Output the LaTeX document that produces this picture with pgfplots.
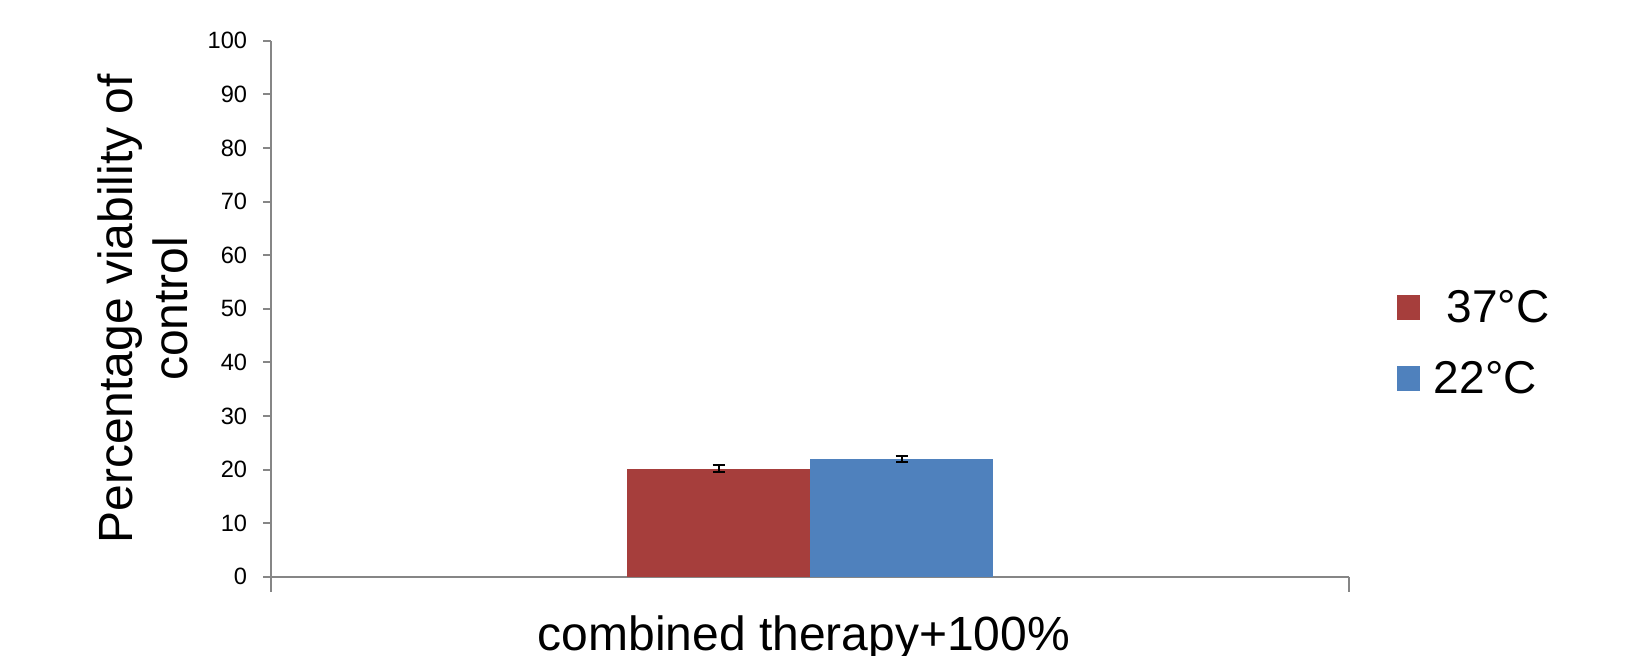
\documentclass[border=0pt]{standalone}
\usepackage{fontspec}
\setmainfont{Liberation Sans}
\usepackage{pgfplots}
\pgfplotsset{compat=1.18}
\definecolor{barred}{HTML}{A63E3C}
\definecolor{barblue}{HTML}{4F81BD}
\definecolor{axgray}{HTML}{868686}
\begin{document}
\begin{tikzpicture}
\useasboundingbox (-135.5pt,-39.15pt) rectangle ++(815.5pt,327.5pt);
\begin{axis}[
  at={(0,0)}, anchor=south west,
  scale only axis, width=539pt, height=268pt,
  xmin=0, xmax=1, ymin=0, ymax=100,
  axis lines=left,
  axis line style={-, axgray, line width=1pt},
  clip=false,
  xtick=\empty,
  ytick={0,10,...,100},
  tick align=outside,
  major tick length=3.75pt,
  ytick style={axgray, line width=1pt},
  /pgf/number format/assume math mode=true,
  yticklabel style={font=\fontsize{11.8}{13}\selectfont, inner sep=0pt, anchor=east, xshift=-8pt},
  ybar, ybar=0pt, bar width=91.5pt,
  xlabel={combined therapy+100\%},
  xlabel style={at={(axis description cs:0.4944,-0.1368)}, anchor=base, inner sep=0pt, font=\fontsize{24}{28}\selectfont},
  ylabel={Percentage viability of\\control},
  ylabel style={at={(axis description cs:-0.1614,0.5)}, anchor=north, inner sep=0pt, align=center, font=\fontsize{24}{27.5}\selectfont},
  legend image code/.code={\draw[#1, draw=none] (0pt,-6.1pt) rectangle (11.5pt,6.1pt);},
  legend style={at={(axis description cs:1.0445,0.436)}, anchor=west, draw=none, fill=none, inner sep=0pt, outer sep=0pt,
    font=\fontsize{23}{27}\selectfont, row sep=13.9pt,
    /tikz/every odd column/.append style={column sep=5pt}},
  legend cell align=left,
]
\addplot[fill=barred, draw=none,
  error bars/.cd, y dir=both, y explicit,
  error bar style={black, line width=1pt},
  error mark options={rotate=90, mark size=3pt, line width=1pt, black}]
  coordinates {(0.5,20.1) +- (0,0.65)};
\addplot[fill=barblue, draw=none,
  error bars/.cd, y dir=both, y explicit,
  error bar style={black, line width=1pt},
  error mark options={rotate=90, mark size=3pt, line width=1pt, black}]
  coordinates {(0.5,22.0) +- (0,0.6)};
\legend{\ 37°C, 22°C}
\draw[axgray, line width=1pt] (axis cs:0,0) -- ++(0,-7.5pt);
\draw[axgray, line width=1pt] (axis cs:1,0) -- ++(0,-7.5pt);
\end{axis}
\end{tikzpicture}
\end{document}
